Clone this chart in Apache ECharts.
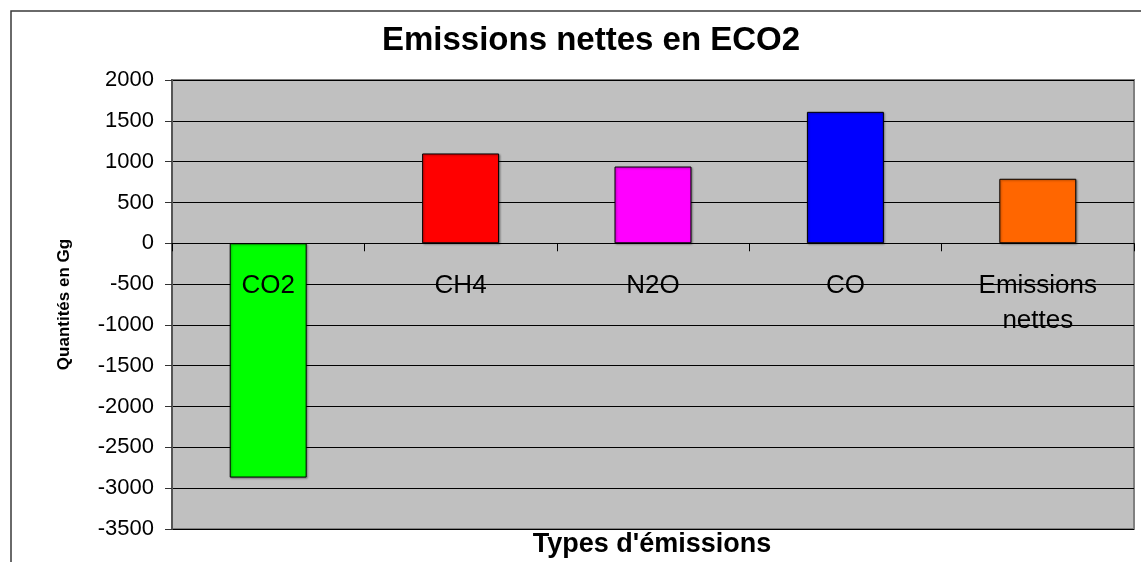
<!DOCTYPE html>
<html>
<head>
<meta charset="utf-8">
<script src="https://cdn.jsdelivr.net/npm/echarts@6/dist/echarts.min.js"></script>
<style>
  html, body { margin: 0; padding: 0; background: #fff; }
  #chart { width: 1141px; height: 562px; }
</style>
</head>
<body>
<div id="chart"></div>
<script>
// données
var categories = ['CO2', 'CH4', 'N2O', 'CO', 'Emissions\nnettes'];
var valeurs = [-2870, 1100, 940, 1610, 790];
var couleurs = ['#00ff00', '#ff0000', '#ff00ff', '#0000ff', '#ff6600'];
var yMin = -3500, yMax = 2000, yPas = 500;

var chart = echarts.init(document.getElementById('chart'));

var donnees = valeurs.map(function (v, i) {
  return { value: v, itemStyle: { color: couleurs[i] } };
});

chart.setOption({
  backgroundColor: '#ffffff',
  animation: false,
  title: {
    text: 'Emissions nettes en ECO2',
    left: 586,
    textAlign: 'center',
    top: 19,
    textStyle: { fontFamily: 'Liberation Sans, Arial', fontSize: 33, fontWeight: 'bold', color: '#000' }
  },
  graphic: [
    {
      type: 'rect',
      shape: { x: 11, y: 11, width: 1300, height: 700 },
      style: { fill: 'none', stroke: '#3a3a3a', lineWidth: 1.5 },
      z: 10
    },
    {
      type: 'text',
      x: 652, y: 545,
      style: {
        text: "Types d'émissions",
        fontFamily: 'Liberation Sans, Arial', fontSize: 27, fontWeight: 'bold',
        fill: '#000', align: 'center', verticalAlign: 'middle'
      }
    }
  ],
  grid: {
    left: 172, top: 80, right: 7, bottom: 33,
    outerBoundsMode: 'none', containLabel: false,
    show: true, backgroundColor: '#c0c0c0', borderColor: '#808080', borderWidth: 2
  },
  xAxis: {
    type: 'category',
    data: categories,
    z: 5,
    axisLine: { onZero: true, lineStyle: { color: '#000', width: 1 } },
    axisTick: { show: true, length: 8, lineStyle: { color: '#000' } },
    axisLabel: {
      // en v6 les libellés restent en bas de la grille : on les remonte sous le zéro
      margin: -261,
      fontFamily: 'Liberation Sans, Arial', fontSize: 26, color: '#000',
      lineHeight: 35, verticalAlign: 'top'
    }
  },
  yAxis: {
    type: 'value',
    min: yMin, max: yMax, interval: yPas,
    name: 'Quantités en Gg',
    nameLocation: 'middle',
    nameRotate: 90,
    nameGap: 99,
    nameTextStyle: { fontFamily: 'Liberation Sans, Arial', fontSize: 17, fontWeight: 'bold', color: '#000' },
    axisLine: { show: true, lineStyle: { color: '#555', width: 2 } },
    axisTick: { show: true, length: 7, lineStyle: { color: '#333' } },
    axisLabel: {
      margin: 18, fontFamily: 'Liberation Sans, Arial', fontSize: 22, color: '#000',
      formatter: function (v) { return String(v); }
    },
    splitLine: { show: true, lineStyle: { color: '#000', width: 1 } }
  },
  series: [{
    type: 'bar',
    data: donnees,
    barWidth: '40%',
    itemStyle: {
      borderColor: '#000', borderWidth: 1,
      shadowColor: 'rgba(0,0,0,0.35)', shadowBlur: 2, shadowOffsetX: 1, shadowOffsetY: 1
    }
  }]
});
</script>
</body>
</html>
